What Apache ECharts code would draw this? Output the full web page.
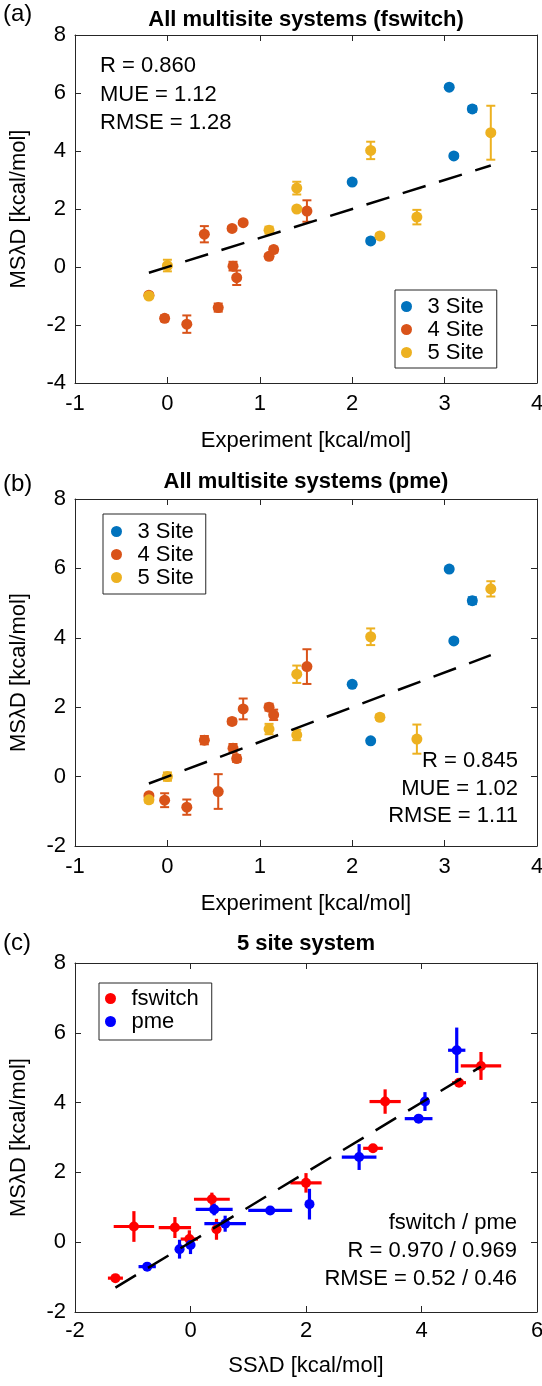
<!DOCTYPE html>
<html><head><meta charset="utf-8">
<script src="https://cdn.jsdelivr.net/npm/echarts@6/dist/echarts.min.js"></script>
<style>html,body{margin:0;padding:0;background:#fff}#c{width:542px;height:1386px}</style>
</head><body><div id="c"></div><script>
// ---------- DATA ----------
// Panel (a): All multisite systems (fswitch) — Experiment vs MSλD
const a3x = [2.0, 2.2, 3.05, 3.1, 3.3];
const a3y = [2.93, 0.9, 6.2, 3.83, 5.45];
const a3e = [0.05, 0.08, 0.05, 0.07, 0.1];
const a4x = [-0.2, -0.03, 0.21, 0.4, 0.55, 0.7, 0.71, 0.75, 0.82, 1.1, 1.15, 1.51];
const a4y = [-0.97, -1.77, -1.97, 1.13, -1.4, 1.33, 0.03, -0.37, 1.53, 0.37, 0.6, 1.93];
const a4e = [0.05, 0.1, 0.3, 0.28, 0.14, 0.06, 0.15, 0.25, 0.06, 0.08, 0.1, 0.37];
const a5x = [-0.2, 0.0, 1.1, 1.4, 1.4, 2.2, 2.3, 2.7, 3.5];
const a5y = [-1.0, 0.05, 1.27, 2.0, 2.72, 4.02, 1.07, 1.72, 4.63];
const a5e = [0.08, 0.2, 0.12, 0.06, 0.22, 0.3, 0.08, 0.25, 0.93];
// Panel (b): All multisite systems (pme)
const b3x = [2.0, 2.2, 3.05, 3.1, 3.3];
const b3y = [2.66, 1.03, 5.98, 3.91, 5.07];
const b3e = [0.05, 0.05, 0.05, 0.05, 0.1];
const b4x = [-0.2, -0.03, 0.21, 0.4, 0.55, 0.7, 0.71, 0.75, 0.82, 1.1, 1.15, 1.51];
const b4y = [-0.55, -0.68, -0.88, 1.05, -0.43, 1.59, 0.82, 0.52, 1.95, 2.0, 1.78, 3.17];
const b4e = [0.05, 0.2, 0.22, 0.12, 0.5, 0.08, 0.12, 0.1, 0.3, 0.1, 0.15, 0.5];
const b5x = [-0.2, 0.0, 1.1, 1.4, 1.4, 2.2, 2.3, 2.7, 3.5];
const b5y = [-0.67, 0.0, 1.37, 1.2, 2.95, 4.03, 1.71, 1.08, 5.41];
const b5e = [0.08, 0.12, 0.15, 0.15, 0.25, 0.24, 0.08, 0.42, 0.22];
// Panel (c): 5 site system — SSλD vs MSλD
const cFx  = [-1.3, -0.98, -0.27, -0.02, 0.37, 0.45, 2.0, 3.16, 3.37, 4.65, 5.03];
const cFy  = [-1.03, 0.45, 0.42, 0.09, 1.23, 0.37, 1.7, 2.69, 4.03, 4.57, 5.05];
const cFxe = [0.13, 0.35, 0.28, 0.15, 0.31, 0.08, 0.27, 0.17, 0.27, 0.12, 0.35];
const cFye = [0.1, 0.44, 0.3, 0.25, 0.19, 0.3, 0.28, 0.12, 0.35, 0.04, 0.4];
const cPx  = [-0.75, -0.19, 0.0, 0.41, 0.6, 1.38, 2.06, 2.92, 3.95, 4.06, 4.61];
const cPy  = [-0.7, -0.2, -0.08, 0.94, 0.53, 0.91, 1.09, 2.44, 3.54, 4.03, 5.5];
const cPxe = [0.15, 0.08, 0.08, 0.32, 0.36, 0.38, 0.04, 0.3, 0.24, 0.05, 0.15];
const cPye = [0.05, 0.27, 0.26, 0.17, 0.23, 0.12, 0.44, 0.37, 0.05, 0.27, 0.65];
// identity reference lines (x range)
const fitA = [-0.2, 3.5];
const fitB = [-0.2, 3.5];
const fitC = [-1.3, 5.03];
// axis ranges / ticks
const xRangeAB = [-1, 4, 1];
const yRangeA = [-4, 8, 2];
const yRangeB = [-2, 8, 2];
const xRangeC = [-2, 6, 2];
const yRangeC = [-2, 8, 2];
// texts
const titles = ['All multisite systems (fswitch)', 'All multisite systems (pme)', '5 site system'];
const panelTags = ['(a)', '(b)', '(c)'];
const xNames = ['Experiment [kcal/mol]', 'Experiment [kcal/mol]', 'SSλD [kcal/mol]'];
const yName = 'MSλD [kcal/mol]';
const groupNames = ['3 Site', '4 Site', '5 Site'];
const methodNames = ['fswitch', 'pme'];
const statsA = ['R = 0.860', 'MUE = 1.12', 'RMSE = 1.28'];
const statsB = ['R = 0.845', 'MUE = 1.02', 'RMSE = 1.11'];
const statsC = ['fswitch / pme', 'R = 0.970 / 0.969', 'RMSE = 0.52 / 0.46'];

// ---------- STYLE / LAYOUT ----------
const FONT = "'Liberation Sans', Arial, Helvetica, sans-serif";
const AX = '#262626';
const COLS = ['#0072BD', '#D95319', '#EDB120'];
const CC = ['#FF0000', '#0000FF'];
const grids = [
  {left: 75, top: 35, width: 462, height: 348},
  {left: 75, top: 499, width: 462, height: 347},
  {left: 75, top: 963, width: 462, height: 349}
];
const xGaps = [47, 47, 43];
const xMargins = [10, 10, 8];

function xAxes(gi, r, name) {
  const base = {gridIndex: gi, type: 'value', min: r[0], max: r[1], interval: r[2],
    splitLine: {show: false},
    axisLine: {show: true, onZero: false, lineStyle: {color: AX, width: 1}},
    axisTick: {show: true, inside: true, length: 6, lineStyle: {color: AX, width: 1}}};
  return [
    Object.assign({}, base, {position: 'bottom', name: name, nameLocation: 'middle', nameGap: xGaps[gi],
      nameTextStyle: {fontSize: 22, color: '#000', fontFamily: FONT},
      axisLabel: {show: true, fontSize: 22, color: '#000', fontFamily: FONT, margin: xMargins[gi], showMinLabel: true, showMaxLabel: true}}),
    Object.assign({}, base, {position: 'top', axisLabel: {show: false}})
  ];
}
function yAxes(gi, r) {
  const base = {gridIndex: gi, type: 'value', min: r[0], max: r[1], interval: r[2],
    splitLine: {show: false},
    axisLine: {show: true, onZero: false, lineStyle: {color: AX, width: 1}},
    axisTick: {show: true, inside: true, length: 6, lineStyle: {color: AX, width: 1}}};
  return [
    Object.assign({}, base, {position: 'left', name: yName, nameLocation: 'middle', nameGap: 45,
      nameTextStyle: {fontSize: 22, color: '#000', fontFamily: FONT},
      axisLabel: {show: true, fontSize: 22, color: '#000', fontFamily: FONT, margin: 9, showMinLabel: true, showMaxLabel: true}}),
    Object.assign({}, base, {position: 'right', axisLabel: {show: false}})
  ];
}

function makeErr(color, lw, cap) {
  return function (params, api) {
    const x = api.value(0), y = api.value(1), ye = api.value(2), xe = api.value(3);
    const c = api.coord([x, y]);
    const kids = [];
    const st = {stroke: color, lineWidth: lw};
    if (ye > 0) {
      const t = api.coord([x, y + ye]), b = api.coord([x, y - ye]);
      kids.push({type: 'line', shape: {x1: c[0], y1: t[1], x2: c[0], y2: b[1]}, style: st});
      if (cap > 0) {
        kids.push({type: 'line', shape: {x1: c[0] - cap, y1: t[1], x2: c[0] + cap, y2: t[1]}, style: st});
        kids.push({type: 'line', shape: {x1: c[0] - cap, y1: b[1], x2: c[0] + cap, y2: b[1]}, style: st});
      }
    }
    if (xe > 0) {
      const l = api.coord([x - xe, y]), r = api.coord([x + xe, y]);
      kids.push({type: 'line', shape: {x1: l[0], y1: c[1], x2: r[0], y2: c[1]}, style: st});
    }
    return {type: 'group', children: kids};
  };
}
function zipErr(xs, ys, ye, xe) {
  return xs.map((x, i) => [x, ys[i], ye ? ye[i] : 0, xe ? xe[i] : 0]);
}
function zipPts(xs, ys) { return xs.map((x, i) => [x, ys[i]]); }

const series = [];
function addGroup(gi, name, color, xs, ys, ye, xe, lw, cap, size) {
  series.push({type: 'custom', name: name + ' err' + gi, xAxisIndex: 2 * gi, yAxisIndex: 2 * gi,
    renderItem: makeErr(color, lw, cap), data: zipErr(xs, ys, ye, xe), encode: {x: 0, y: 1}, silent: true});
  series.push({type: 'scatter', name: name, xAxisIndex: 2 * gi, yAxisIndex: 2 * gi, symbol: 'circle',
    symbolSize: size, itemStyle: {color: color, opacity: 1}, data: zipPts(xs, ys), silent: true});
}
function addFit(gi, range) {
  series.push({type: 'line', name: 'fit' + gi, xAxisIndex: 2 * gi, yAxisIndex: 2 * gi, symbol: 'none', silent: true,
    data: [[range[0], range[0]], [range[1], range[1]]],
    lineStyle: {color: '#000', width: 2.5, type: [24, 14]}});
}
addGroup(0, groupNames[0], COLS[0], a3x, a3y, a3e, null, 2, 4.5, 11);
addGroup(0, groupNames[1], COLS[1], a4x, a4y, a4e, null, 2, 4.5, 11);
addGroup(0, groupNames[2], COLS[2], a5x, a5y, a5e, null, 2, 4.5, 11);
addFit(0, fitA);
addGroup(1, groupNames[0], COLS[0], b3x, b3y, b3e, null, 2, 4.5, 11);
addGroup(1, groupNames[1], COLS[1], b4x, b4y, b4e, null, 2, 4.5, 11);
addGroup(1, groupNames[2], COLS[2], b5x, b5y, b5e, null, 2, 4.5, 11);
addFit(1, fitB);
addGroup(2, methodNames[0], CC[0], cFx, cFy, cFye, cFxe, 3.2, 0, 10);
addGroup(2, methodNames[1], CC[1], cPx, cPy, cPye, cPxe, 3.2, 0, 10);
addFit(2, fitC);

function legend(names, left, top, pad) {
  return {show: true, orient: 'vertical', left: left, top: top, padding: pad, itemGap: 0,
    itemWidth: 32, itemHeight: 11, selectedMode: false,
    borderColor: AX, borderWidth: 1, backgroundColor: '#fff',
    textStyle: {fontSize: 22, color: '#000', fontFamily: FONT, lineHeight: 23},
    data: names.map(n => ({name: n, icon: 'circle'}))};
}

const graphics = [];
function txt(x, y, s, size, align, bold) {
  graphics.push({type: 'text', x: x, y: y, silent: true,
    style: {text: s, font: (bold ? 'bold ' : '') + size + 'px ' + FONT, fill: '#000',
      align: align, verticalAlign: 'middle', textAlign: align, textVerticalAlign: 'middle'}});
}
const titleY = [20, 482, 944];
const tagY = [14, 484, 943];
for (let i = 0; i < 3; i++) {
  txt(306, titleY[i], titles[i], 22, 'center', true);
  txt(3, tagY[i], panelTags[i], 24, 'left', false);
}
const statsAY = [66, 94.5, 123];
statsA.forEach((s, i) => txt(100, statsAY[i], s, 22, 'left'));
const statsBY = [761, 788.5, 816];
statsB.forEach((s, i) => txt(518, statsBY[i], s, 22, 'right'));
const statsCY = [1223, 1251, 1279];
statsC.forEach((s, i) => txt(517, statsCY[i], s, 22, 'right'));

const option = {
  animation: false,
  backgroundColor: '#fff',
  textStyle: {fontFamily: FONT},
  grid: grids.map(g => Object.assign({containLabel: false, outerBoundsMode: 'none'}, g)),
  xAxis: [].concat(xAxes(0, xRangeAB, xNames[0]), xAxes(1, xRangeAB, xNames[1]), xAxes(2, xRangeC, xNames[2])),
  yAxis: [].concat(yAxes(0, yRangeA), yAxes(1, yRangeB), yAxes(2, yRangeC)),
  legend: [
    legend(groupNames, 395, 290, [5, 13, 4, 6]),
    legend(groupNames, 103, 514, [6, 12, 5, 8]),
    legend(methodNames, 99, 983, [4, 13, 7, 6])
  ],
  series: series,
  graphic: graphics
};
const chart = echarts.init(document.getElementById('c'), null, {renderer: 'canvas'});
chart.setOption(option);
</script></body></html>
